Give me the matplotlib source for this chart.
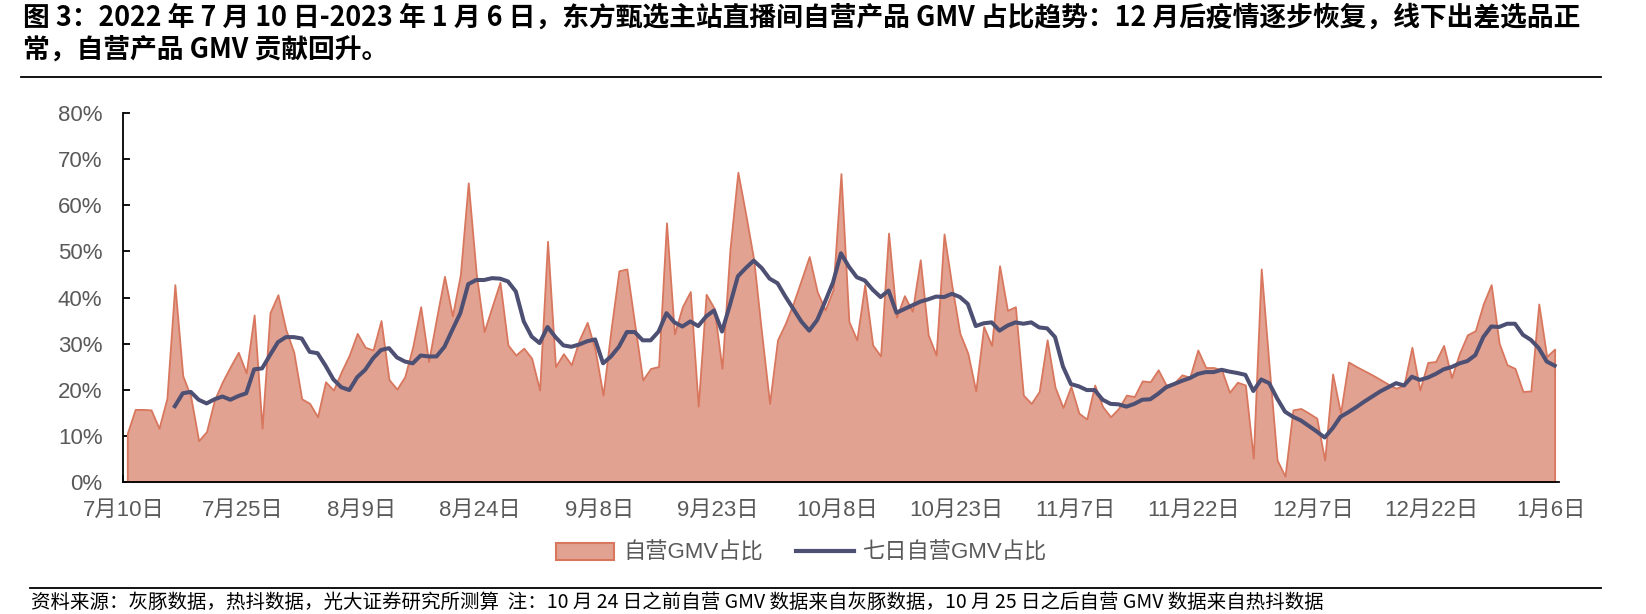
import numpy as np
import pandas as pd
import matplotlib
matplotlib.use('Agg')
from matplotlib import pyplot as plt
from matplotlib.patches import Patch
from matplotlib.lines import Line2D

plt.rcParams['font.family'] = ['Liberation Sans', 'Noto Sans CJK SC', 'DejaVu Sans']

# daily dates, 2022-07-10 .. 2023-01-06
dates = pd.date_range('2022-07-10', '2023-01-06', freq='D')

# 自营GMV占比 (%)
share = [
    10.5, 15.7, 15.7, 15.6, 11.6, 18.1, 42.8, 23.0, 18.5, 8.9,
    10.9, 17.8, 21.7, 25.0, 28.1, 23.6, 36.2, 11.6, 36.7, 40.6,
    33.0, 28.1, 18.0, 17.0, 14.1, 21.7, 19.9, 23.9, 27.5, 32.2,
    29.2, 28.6, 35.0, 22.2, 20.1, 22.8, 29.3, 38.0, 26.1, 35.5,
    44.6, 36.0, 44.9, 64.9, 45.3, 32.6, 38.0, 43.3, 29.7, 27.5,
    29.0, 26.8, 19.9, 52.2, 25.0, 27.8, 25.4, 30.8, 34.6, 28.6,
    18.8, 33.0, 45.8, 46.2, 34.1, 22.1, 24.6, 25.0, 56.2, 32.1,
    38.0, 41.3, 16.4, 40.7, 37.7, 24.6, 50.4, 67.2, 58.0, 48.2,
    32.2, 17.0, 30.8, 34.4, 38.8, 43.8, 48.9, 41.3, 37.3, 41.7,
    66.9, 34.8, 30.8, 42.8, 29.7, 27.3, 54.0, 35.7, 40.4, 37.0,
    48.2, 31.9, 27.5, 53.8, 42.4, 32.2, 27.9, 19.7, 33.7, 29.6,
    46.9, 37.2, 38.0, 18.8, 17.0, 19.6, 30.8, 20.5, 16.1, 20.7,
    14.9, 13.6, 21.0, 16.3, 14.1, 15.9, 18.8, 18.5, 21.9, 21.7,
    24.3, 21.0, 21.4, 23.2, 22.7, 28.6, 24.8, 24.8, 24.3, 19.4,
    21.6, 21.0, 5.1, 46.2, 25.0, 4.7, 1.2, 15.6, 15.9, 14.9,
    13.8, 4.7, 23.4, 14.9, 26.0, 25.0, 24.1, 23.2, 22.2, 21.2,
    20.3, 21.0, 29.2, 19.9, 25.9, 26.1, 29.6, 22.6, 27.9, 31.9,
    32.8, 38.6, 42.8, 30.1, 25.4, 24.6, 19.6, 19.7, 38.6, 27.2,
    28.8,
]

# 七日自营GMV占比 (%), starts on day 7
share_7d = [np.nan] * 6 + [
    16.4, 19.2, 19.5, 17.8, 17.0, 17.9, 18.5, 17.8, 18.6, 19.2,
    24.4, 24.6, 27.5, 30.3, 31.4, 31.4, 31.1, 28.2, 27.9, 25.2,
    22.2, 20.5, 19.9, 22.7, 24.3, 26.8, 28.6, 29.0, 27.0, 26.1,
    25.7, 27.4, 27.2, 27.2, 29.3, 33.0, 36.6, 42.9, 43.8, 43.8,
    44.2, 44.1, 43.5, 41.3, 34.8, 31.5, 30.1, 33.6, 31.4, 29.6,
    29.3, 29.8, 30.5, 30.9, 25.7, 27.2, 29.3, 32.5, 32.5, 30.7,
    30.7, 32.6, 36.6, 34.6, 33.7, 34.8, 33.8, 35.9, 37.2, 32.6,
    38.4, 44.6, 46.4, 48.0, 46.4, 44.1, 43.1, 40.2, 37.5, 34.8,
    32.8, 35.1, 39.1, 43.3, 49.6, 46.7, 44.4, 43.7, 41.7, 40.1,
    41.5, 36.7, 37.5, 38.3, 39.1, 39.6, 40.2, 40.1, 40.8, 40.1,
    38.6, 33.8, 34.4, 34.6, 32.8, 33.9, 34.6, 34.3, 34.6, 33.5,
    33.3, 31.4, 25.0, 21.2, 20.7, 19.9, 19.9, 17.8, 16.9, 16.8,
    16.3, 16.9, 17.8, 17.9, 19.1, 20.5, 21.2, 21.9, 22.5, 23.4,
    23.8, 23.8, 24.3, 23.9, 23.6, 23.2, 19.7, 22.2, 21.4, 18.1,
    15.2, 14.1, 13.3, 12.1, 10.9, 9.6, 11.6, 14.1, 15.1, 16.2,
    17.4, 18.5, 19.6, 20.5, 21.4, 20.9, 22.8, 22.1, 22.6, 23.4,
    24.4, 24.9, 25.7, 26.2, 27.5, 31.4, 33.7, 33.6, 34.3, 34.3,
    31.9, 30.8, 29.0, 26.1, 25.2,
]

tick_dates = ['2022-07-10', '2022-07-25', '2022-08-09', '2022-08-24', '2022-09-08',
              '2022-09-23', '2022-10-08', '2022-10-23', '2022-11-07', '2022-11-22',
              '2022-12-07', '2022-12-22', '2023-01-06']
tick_labels = ['7月10日', '7月25日', '8月9日', '8月24日', '9月8日', '9月23日', '10月8日',
               '10月23日', '11月7日', '11月22日', '12月7日', '12月22日', '1月6日']

fill_c = '#E1A291'
edge_c = '#D8775E'
line_c = '#4D4F73'
gray = '#595959'

fig = plt.figure(figsize=(16.46, 6.14), dpi=100)
ax = fig.add_axes([123.3 / 1646, 132.3 / 614, 1435.3 / 1646, 368.4 / 614])

# points sit in the middle of each day's slot
x = dates + pd.Timedelta(hours=12)
y1 = np.array(share) / 100
y2 = np.array(share_7d) / 100
ax.fill_between(x, 0, y1, facecolor=fill_c, edgecolor=edge_c, lw=1.3, zorder=2)
ax.plot(x, y2, color=line_c, lw=2.9, solid_joinstyle='round', zorder=3)

ax.set_xlim(pd.Timestamp('2022-07-10'), pd.Timestamp('2023-01-07'))
ax.set_ylim(0, 0.8)
ax.set_yticks(np.arange(0, 0.81, 0.1))
ax.set_yticklabels([f'{int(round(v * 100))}%' for v in np.arange(0, 0.81, 0.1)])
ax.set_xticks(pd.to_datetime(tick_dates))
ax.set_xticklabels(tick_labels)

for s in ['top', 'right']:
    ax.spines[s].set_visible(False)
for s in ['left', 'bottom']:
    ax.spines[s].set_linewidth(1.3)
    ax.spines[s].set_zorder(4)
ax.tick_params(direction='in', length=5, width=1.3, labelsize=16, labelcolor=gray)
ax.tick_params(axis='y', pad=15)
ax.tick_params(axis='x', pad=13)

handles = [Patch(facecolor=fill_c, edgecolor=edge_c, lw=1.5),
           Line2D([0], [0], color=line_c, lw=3)]
fig.legend(handles, ['自营GMV占比', '七日自营GMV占比'], loc='center',
           bbox_to_anchor=(0.487, 0.099), ncol=2, frameon=False, fontsize=16,
           labelcolor=gray, handlelength=2.6, handleheight=0.8, columnspacing=1.5,
           handletextpad=0.4)

title_font = ['Noto Sans CJK SC', 'DejaVu Sans']
fig.text(23 / 1646, 1 - 18 / 614,
         '图 3：2022 年 7 月 10 日-2023 年 1 月 6 日，东方甄选主站直播间自营产品 GMV 占比趋势：12 月后疫情逐步恢复，线下出差选品正',
         family=title_font, fontweight='bold', fontsize=19.3, va='center', ha='left')
fig.text(23 / 1646, 1 - 50 / 614, '常，自营产品 GMV 贡献回升。',
         family=title_font, fontweight='bold', fontsize=19.3, va='center', ha='left')
fig.add_artist(Line2D([21 / 1646, 1601 / 1646], [1 - 77 / 614] * 2, color='black', lw=1.3))
fig.add_artist(Line2D([30 / 1646, 1601 / 1646], [1 - 588 / 614] * 2, color='black', lw=1.3))
fig.text(31 / 1646, 1 - 602 / 614,
         '资料来源：灰豚数据，热抖数据，光大证券研究所测算  注：10 月 24 日之前自营 GMV 数据来自灰豚数据，10 月 25 日之后自营 GMV 数据来自热抖数据',
         family=title_font, fontsize=14, va='center', ha='left')

fig.savefig('out.png', dpi=100)
